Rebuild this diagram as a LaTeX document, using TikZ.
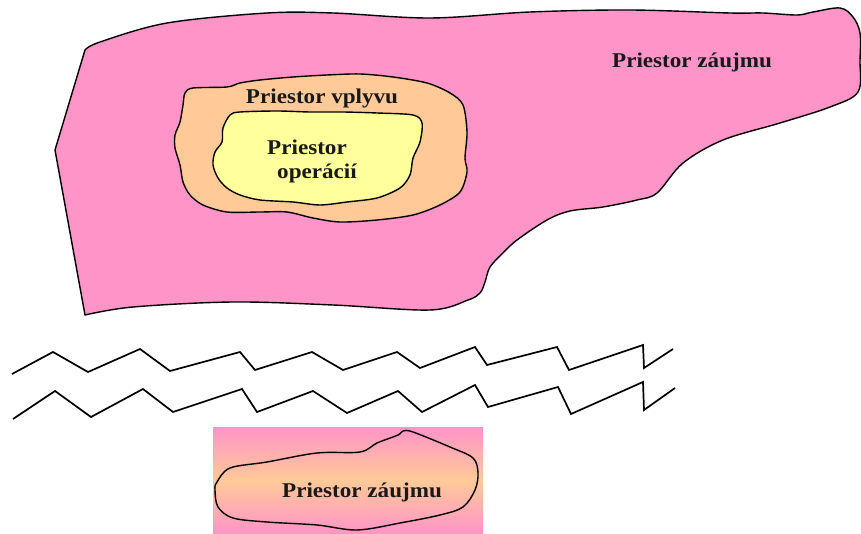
\documentclass[tikz,border=0pt]{standalone}
\usepackage{graphicx}
\usepackage{fontspec}
\setmainfont{Liberation Serif}
\definecolor{zpink}{RGB}{255,148,200}
\definecolor{zorange}{RGB}{255,202,152}
\definecolor{zyellow}{RGB}{255,255,155}
\newcommand\widetxt[1]{\scalebox{1.1}[1]{#1}}
\begin{document}
\begin{tikzpicture}[x=1pt,y=-1pt,
  outline/.style={draw=black,line width=1.4pt,line join=round},
  lbl/.style={font=\bfseries\fontsize{21}{24}\selectfont,inner sep=0pt,text=black!90},
  zig/.style={draw=black,line width=1.7pt,line join=miter}]
\useasboundingbox (0,0) rectangle (861,534);
% area of interest
\path[outline,fill=zpink] (85,50) -- (55,150) -- (85,315) -- plot[smooth,tension=0.55] coordinates {(85,315) (133,307) (233,302) (333,305) (430,310) (468,300) (480,293) (485,282) (490,267) (503,253) (517,240) (547,220) (570,211) (603,207) (637,200) (657,193) (683,163) (723,140) (780,123) (830,107) (858,92) (860,60) (860,33) (853,17) (840,8) (813,12) (797,15) (763,13) (730,13) (630,10) (530,12) (430,18) (333,13) (267,13) (167,23) (100,42) (85,50)} -- cycle;
% area of influence
\path[outline,fill=zorange] plot[smooth cycle,tension=0.5] coordinates {(185,93) (193,88) (227,87) (240,83) (260,80) (293,77) (327,75) (360,74) (393,77) (427,83) (450,93) (463,105) (467,132) (465,158) (467,172) (460,192) (440,205) (413,215) (377,220) (340,222) (313,218) (287,212) (260,212) (227,212) (203,205) (190,195) (183,182) (180,165) (175,148) (175,135) (180,122) (183,105)};
% area of operations
\path[outline,fill=zyellow] plot[smooth cycle,tension=0.5] coordinates {(230,115) (240,112) (277,111) (310,112) (343,112) (377,113) (413,115) (422,123) (420,142) (413,158) (410,175) (400,188) (377,198) (347,202) (320,205) (293,202) (260,200) (240,195) (227,188) (218,178) (213,165) (215,152) (222,142) (223,128)};
\node[lbl] (vplyv) at (322,98) {\widetxt{Priestor vplyvu}};
\node[lbl] (oper1) at (307,147) {\widetxt{Priestor}};
\node[lbl] (oper2) at (317,173) {\widetxt{operácií}};
\node[lbl] (zaujem) at (692,62) {\widetxt{Priestor záujmu}};
% break lines
\draw[zig] plot coordinates {(12,374) (53,352) (88,372) (140,349) (170,371) (240,352) (255,370) (312,352) (343,370) (397,352) (420,368) (475,347) (487,365) (557,347) (569,370) (643,345) (644,368) (673,349)};
\draw[zig] plot coordinates {(13,419) (55,391) (91,417) (143,389) (173,412) (242,389) (257,412) (313,391) (347,413) (398,391) (422,412) (475,385) (488,407) (558,387) (571,414) (643,382) (644,410) (675,388)};
% inset
\shade[top color=zpink,bottom color=zpink,middle color=zorange] (213,427) rectangle (483,534);
\path[outline] plot[smooth cycle,tension=0.55] coordinates {(217,482) (230,468) (267,462) (317,453) (360,452) (377,443) (398,435) (403,431) (413,432) (450,447) (473,458) (478,473) (475,490) (463,507) (440,515) (400,523) (357,530) (317,525) (267,522) (233,518) (218,507) (215,490)};
\node[lbl] (zaujem2) at (362,492) {\widetxt{Priestor záujmu}};
\end{tikzpicture}
\end{document}
